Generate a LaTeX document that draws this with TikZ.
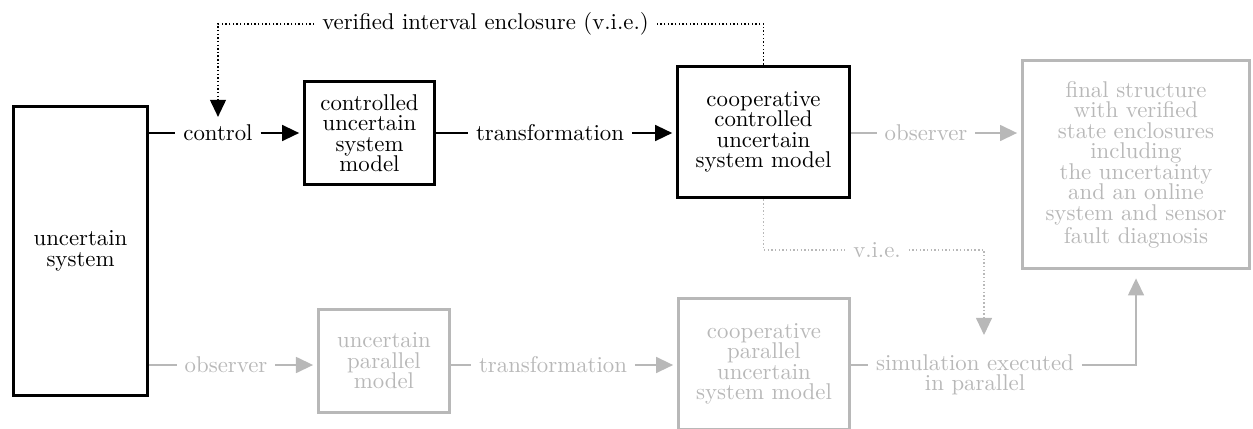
\documentclass[tikz,border=0pt]{standalone}
\usepackage{tikz}
\usetikzlibrary{arrows.meta,positioning}

\begin{document}
\begin{tikzpicture}[
  x=0.4386pt, y=-0.4386pt,
  font=\fontsize{10}{9}\selectfont,
  box/.style  ={draw, line width=1.7pt, align=center, inner sep=2pt},
  faded/.style={draw=black!28, text=black!28},
  ftxt/.style ={text=black!28},
  lbl/.style  ={align=center},
  tip/.style  ={-{Triangle[length=7.5pt,width=7pt]}},
  ln/.style   ={thick},
  arr/.style  ={tip, thick, shorten >=1.5pt},
  via/.style  ={densely dotted, semithick}
]
\useasboundingbox (0,0) rectangle (1253,428);

\node[box, minimum width=58.8pt, minimum height=126.8pt] (sys)  at (80.5,251)  {uncertain\\system};
\node[box, minimum width=57pt,   minimum height=45.2pt]  (cum)  at (369.5,133) {controlled\\uncertain\\system\\model};
\node[box, minimum width=75.4pt, minimum height=57.5pt]  (ccum) at (763.5,132) {cooperative\\controlled\\uncertain\\system model};
\node[box, faded, minimum width=99.6pt, minimum height=91.2pt] (final) at (1136,164.5)
      {final structure\\with verified\\state enclosures\\including\\the uncertainty\\and an online\\system and sensor\\fault diagnosis};
\node[box, faded, minimum width=57.5pt, minimum height=45.2pt] (upm)  at (384,361)   {uncertain\\parallel\\model};
\node[box, faded, minimum width=75pt,   minimum height=57.5pt] (cpum) at (764,364)   {cooperative\\parallel\\uncertain\\system model};

\node[lbl]       (lctrl)   at (218,133)   {control};
\node[lbl]       (ltrans)  at (550,133)   {transformation};
\node[lbl, ftxt] (lobs)    at (926,133)   {observer};
\node[lbl]       (lvie)    at (485.5,24)  {verified interval enclosure (v.i.e.)};
\node[lbl, ftxt] (lobsp)   at (226,365)   {observer};
\node[lbl, ftxt] (ltransp) at (553,365)   {transformation};
\node[lbl, ftxt] (lviep)   at (877,250)   {v.i.e.};
\node[lbl, ftxt] (lsim)    at (975,375)   {simulation executed\\in parallel};
\coordinate (vtip) at (984,335);

\draw[ln]  (sys.east |- lctrl) -- (lctrl);
\draw[arr] (lctrl) -- (cum);
\draw[ln]  (cum) -- (ltrans);
\draw[arr] (ltrans) -- (ltrans -| ccum.west);
\draw[ln, faded]  (ccum.east |- lobs) -- (lobs);
\draw[arr, faded] (lobs) -- (lobs -| final.west);
\draw[via] (ccum) |- (lvie);
\draw[via, tip] (lvie) -| (lctrl);

\draw[ln, faded]  (sys.east |- lobsp) -- (lobsp);
\draw[arr, faded] (lobsp) -- (lobsp -| upm.west);
\draw[ln, faded]  (upm.east |- ltransp) -- (ltransp);
\draw[arr, faded] (ltransp) -- (ltransp -| cpum.west);
\draw[ln, faded]  (cpum.east |- ltransp) -- (ltransp -| lsim.west);
\draw[arr, faded, shorten >=3.5pt] (lsim.east |- ltransp) -| (final.south);
\draw[via, faded] (ccum) |- (lviep);
\draw[via, faded, tip] (lviep) -| (vtip);
\end{tikzpicture}
\end{document}
